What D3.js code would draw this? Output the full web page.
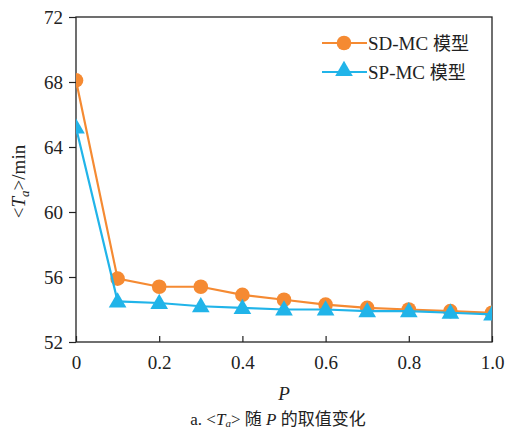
<!DOCTYPE html>
<html><head><meta charset="utf-8">
<script src="https://cdn.jsdelivr.net/npm/d3@7/dist/d3.min.js"></script>
<style>
html,body{margin:0;padding:0;background:#fff;}
svg{display:block;}
text{font-family:"Liberation Serif","Noto Sans CJK SC",serif;fill:#222;}
.cjk{font-family:"Noto Sans CJK SC",sans-serif;}
</style></head>
<body>
<svg id="chart" width="506" height="432"></svg>
<script>
const pValues = [0, 0.1, 0.2, 0.3, 0.4, 0.5, 0.6, 0.7, 0.8, 0.9, 1.0];
const sdmcValues = [68.1, 55.9, 55.4, 55.4, 54.9, 54.6, 54.3, 54.1, 54.0, 53.9, 53.8];
const spmcValues = [65.2, 54.5, 54.4, 54.2, 54.1, 54.0, 54.0, 53.9, 53.9, 53.8, 53.7];
const xTicks = [0, 0.2, 0.4, 0.6, 0.8, 1.0];
const xTickLabels = ["0", "0.2", "0.4", "0.6", "0.8", "1.0"];
const yTicks = [52, 56, 60, 64, 68, 72];
const seriesCodes = ["SD-MC", "SP-MC"];
const seriesSuffix = "模型";
const seriesColors = ["#F58A32", "#21B4E9"];

const svg = d3.select("#chart");
const L = 76, R = 492, T = 17, B = 342;
const x = d3.scaleLinear().domain([0, 1]).range([L, R]);
const y = d3.scaleLinear().domain([52, 72]).range([B, T]);

svg.append("defs").append("clipPath").attr("id", "clip")
  .append("rect").attr("x", L).attr("y", T).attr("width", R - L).attr("height", B - T);

// frame
svg.append("rect").attr("x", L).attr("y", T).attr("width", R - L).attr("height", B - T)
  .attr("fill", "none").attr("stroke", "#222").attr("stroke-width", 1.3);

// x axis (ticks inward)
const xAxis = d3.axisBottom(x).tickValues(xTicks)
  .tickFormat((d, i) => xTickLabels[i]).tickSizeInner(-6).tickSizeOuter(0).tickPadding(14);
const gx = svg.append("g").attr("transform", `translate(0,${B})`).call(xAxis);
gx.select(".domain").remove();
gx.selectAll(".tick line").attr("stroke", "#222").attr("stroke-width", 1.2);
gx.selectAll(".tick text").attr("font-size", 19).attr("font-family", "Liberation Serif").attr("fill", "#222");

// y axis (ticks outward)
const yAxis = d3.axisLeft(y).tickValues(yTicks).tickSizeInner(7).tickSizeOuter(0).tickPadding(6);
const gy = svg.append("g").attr("transform", `translate(${L},0)`).call(yAxis);
gy.select(".domain").remove();
gy.selectAll(".tick line").attr("stroke", "#222").attr("stroke-width", 1.2);
gy.selectAll(".tick text").attr("font-size", 19).attr("font-family", "Liberation Serif").attr("fill", "#222");

// axis titles
svg.append("text").attr("x", (L + R) / 2).attr("y", 400).attr("text-anchor", "middle")
  .attr("font-size", 19).attr("font-style", "italic").text("P");

const yt = svg.append("text").attr("transform", `translate(25,${(T + B) / 2 + 2}) rotate(-90)`)
  .attr("text-anchor", "middle").attr("font-size", 19);
yt.append("tspan").text("<");
yt.append("tspan").attr("font-style", "italic").text("T");
yt.append("tspan").attr("font-style", "italic").attr("font-size", 13).attr("dy", 4).text("a");
yt.append("tspan").attr("dy", -4).text(">/min");

// caption
const cap = svg.append("text").attr("x", 278).attr("y", 425).attr("text-anchor", "middle").attr("font-size", 17);
cap.append("tspan").text("a. <");
cap.append("tspan").attr("font-style", "italic").text("T");
cap.append("tspan").attr("font-style", "italic").attr("font-size", 11).attr("dy", 2).text("a");
cap.append("tspan").attr("dy", -2).text("> ");
cap.append("tspan").attr("class", "cjk").text("随");
cap.append("tspan").text(" ");
cap.append("tspan").attr("font-style", "italic").text("P");
cap.append("tspan").text(" ");
cap.append("tspan").attr("class", "cjk").text("的取值变化");

// series
const line = d3.line().x((d, i) => x(pValues[i])).y(d => y(d));
const plot = svg.append("g").attr("clip-path", "url(#clip)");
const tri = d3.symbol().type(d3.symbolTriangle).size(135);

function drawSeries(vals, color, kind) {
  plot.append("path").datum(vals).attr("d", line).attr("fill", "none")
    .attr("stroke", color).attr("stroke-width", 2.2);
  const g = plot.append("g");
  if (kind === "circle") {
    g.selectAll("circle").data(vals).join("circle")
      .attr("cx", (d, i) => x(pValues[i])).attr("cy", d => y(d)).attr("r", 7.3).attr("fill", color);
  } else {
    g.selectAll("path").data(vals).join("path").attr("d", tri)
      .attr("transform", (d, i) => `translate(${x(pValues[i])},${y(d) + 1})`).attr("fill", color);
  }
}
drawSeries(sdmcValues, seriesColors[0], "circle");
drawSeries(spmcValues, seriesColors[1], "tri");

// legend
const lg = svg.append("g");
[0, 1].forEach(i => {
  const yy = 43 + i * 29;
  lg.append("line").attr("x1", 322).attr("x2", 367).attr("y1", yy).attr("y2", yy)
    .attr("stroke", seriesColors[i]).attr("stroke-width", 2.2);
  if (i === 0) lg.append("circle").attr("cx", 344).attr("cy", yy).attr("r", 7.3).attr("fill", seriesColors[i]);
  else lg.append("path").attr("d", tri).attr("transform", `translate(344,${yy - 1})`).attr("fill", seriesColors[i]);
  const t = lg.append("text").attr("x", 368).attr("y", yy + 6.5).attr("font-size", 19);
  t.append("tspan").attr("font-family", "Liberation Serif").text(seriesCodes[i] + " ");
  t.append("tspan").attr("class", "cjk").attr("font-size", 18).text(seriesSuffix);
});
</script>
</body></html>
